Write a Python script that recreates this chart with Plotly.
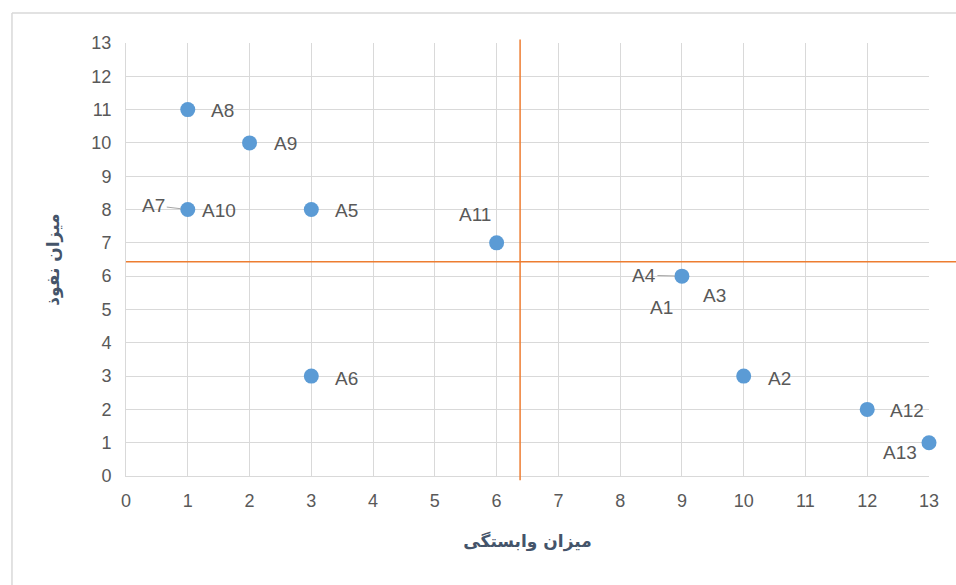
import plotly.graph_objects as go

x_vals = [1, 2, 1, 3, 6, 9, 3, 10, 12, 13]
y_vals = [11, 10, 8, 8, 7, 6, 3, 3, 2, 1]

labels = ["A8", "A9", "A7", "A10", "A5", "A11", "A4", "A1", "A3", "A6", "A2", "A12", "A13"]
label_x = [1, 2, 1, 1, 3, 6, 9, 9, 9, 3, 10, 12, 13]
label_y = [11, 10, 8, 8, 8, 7, 6, 6, 6, 3, 3, 2, 1]
label_dx = [35, 36, -34, 31, 35, -22, -38, -20, 33, 35, 36, 40, -29]
label_dy = [1, 1, -4, 1, 1, -28, -1, 31, 19, 2, 2, 1, 10]
leader = [False, False, True, False, False, False, True, False, False, False, False, False, False]

x_split = 6.38
y_split = 6.43

x_title = "میزان وابستگی"
y_title = "میزان نفوذ"

fig = go.Figure()
fig.add_trace(go.Scatter(
    x=x_vals, y=y_vals, mode="markers", cliponaxis=False,
    marker=dict(size=15, color="#5b9bd5", line=dict(color="#5b9bd5", width=0)),
    hoverinfo="skip", showlegend=False,
))

lab_font = dict(size=19, color="#595959", family="Liberation Sans")
for t, lx, ly, dx, dy, ld in zip(labels, label_x, label_y, label_dx, label_dy, leader):
    if ld:
        fig.add_annotation(x=lx, y=ly, text=t, showarrow=True, ax=dx, ay=dy,
                           arrowhead=0, arrowwidth=1, arrowcolor="#a6a6a6",
                           standoff=7, startstandoff=0, font=lab_font)
    else:
        fig.add_annotation(x=lx, y=ly, text=t, showarrow=False, xshift=dx, yshift=-dy,
                           font=lab_font)

# quadrant lines
fig.add_shape(type="line", xref="x", yref="paper", x0=x_split, x1=x_split, y0=-0.01, y1=1.008,
              line=dict(color="#ed7d31", width=1.5))
fig.add_shape(type="line", xref="paper", yref="y", x0=0, x1=1.04, y0=y_split, y1=y_split,
              line=dict(color="#ed7d31", width=1.5))

# chart border
fig.add_shape(type="line", xref="paper", yref="paper", x0=-0.142, x1=-0.142, y0=-0.3, y1=1.069,
              line=dict(color="#d9d9d9", width=1.5))
fig.add_shape(type="line", xref="paper", yref="paper", x0=-0.142, x1=1.05, y0=1.069, y1=1.069,
              line=dict(color="#d9d9d9", width=1.5))

axis_font = dict(size=18, color="#595959", family="Liberation Sans")
title_font = dict(size=17, color="#44546a", family="DejaVu Sans")
fig.update_xaxes(range=[0, 13], dtick=1, tick0=0, showgrid=True, gridcolor="#d9d9d9",
                 zeroline=False, showline=True, linecolor="#d9d9d9", tickfont=axis_font,
                 ticks="", ticklabelstandoff=8,
                 title=dict(text="<b>" + x_title + "</b>", font=title_font, standoff=25))
fig.update_yaxes(range=[0, 13], dtick=1, tick0=0, showgrid=True, gridcolor="#d9d9d9",
                 zeroline=False, showline=True, linecolor="#d9d9d9", tickfont=axis_font,
                 ticks="", ticklabelstandoff=10,
                 title=dict(text="<b>" + y_title + "</b>", font=title_font, standoff=27))

fig.update_layout(
    width=956, height=585,
    margin=dict(l=126, r=27, t=43, b=109),
    plot_bgcolor="white", paper_bgcolor="white",
)

fig.write_html("out.html")
